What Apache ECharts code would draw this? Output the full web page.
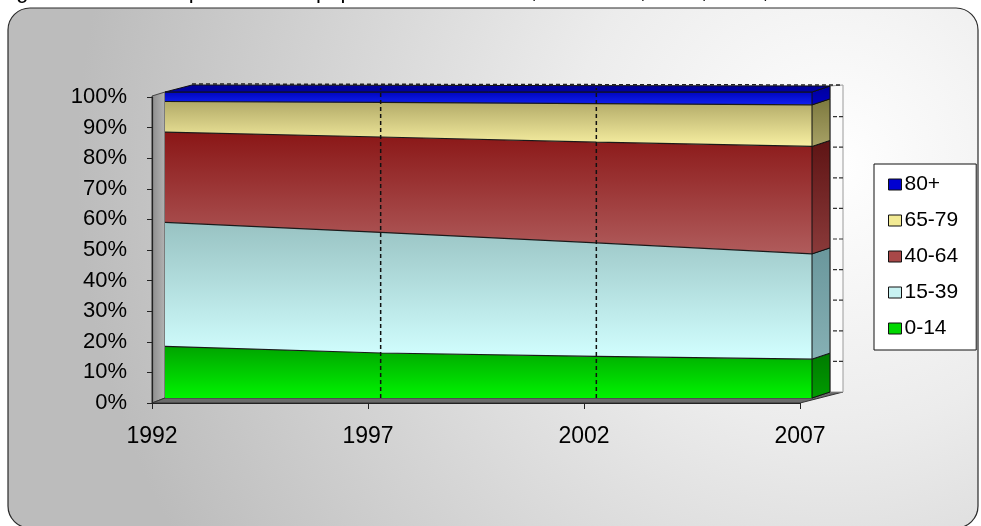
<!DOCTYPE html>
<html>
<head>
<meta charset="utf-8">
<script src="https://cdn.jsdelivr.net/npm/echarts@6/dist/echarts.min.js"></script>
<style>
  html, body { margin: 0; padding: 0; background: #ffffff; }
  #chart { width: 981px; height: 526px; }
</style>
</head>
<body>
<div id="chart"></div>
<script>
// Resident population by age group, percentage shares
const years = ['1992', '1997', '2002', '2007'];
const share0to14  = [16.9, 14.7, 13.6, 12.7];
const share15to39 = [40.5, 39.4, 37.1, 34.4];
const share40to64 = [29.5, 31.2, 32.9, 35.1];
const share65to79 = [10.0, 11.3, 12.6, 13.6];
const share80plus = [3.1, 3.4, 3.8, 4.2];
const percentMin = 0;
const percentMax = 100;
const percentStep = 10;
const legendOrder = ['80+', '65-79', '40-64', '15-39', '0-14'];
const titleText = 'Figura 3 - Struttura per età della popolazione residente, anni 1992, 1997, 2002, 2007';

const FONT = '"Liberation Sans", Arial, sans-serif';
const W = 981, H = 526;

// front face of the 3D block (data grid) and the grid carrying the visible axes
const FRONT = { left: 165, right: 169, top: 92, bottom: 128 };
const AXIS = { left: 152, right: 181, top: 97, bottom: 123 };
const DR = [18, -6];   // depth offset, right side
const DL = [27, -7];   // depth offset, left side
const STRIP = 13;      // right wall thickness

const frontL = FRONT.left, frontR = W - FRONT.right, frontT = FRONT.top, frontB = H - FRONT.bottom;
const axisL = AXIS.left, axisR = W - AXIS.right, axisT = AXIS.top, axisB = H - AXIS.bottom;

function vGrad(top, bottom) {
  return new echarts.graphic.LinearGradient(0, 0, 0, 1, [
    { offset: 0, color: top }, { offset: 1, color: bottom }
  ]);
}

const bands = [
  { name: '0-14',  values: share0to14,  legend: '#00d800', top: '#00a400', bottom: '#00f400', side: vGrad('#007a00', '#009c00') },
  { name: '15-39', values: share15to39, legend: '#c8f2f2', top: '#98c2c2', bottom: '#d2ffff', side: vGrad('#6a979c', '#86b0b4') },
  { name: '40-64', values: share40to64, legend: '#a84848', top: '#8a1616', bottom: '#b05c5c', side: vGrad('#5e1414', '#8a3a3a') },
  { name: '65-79', values: share65to79, legend: '#f2ea94', top: '#b2aa68', bottom: '#f8f0a2', side: vGrad('#7c783e', '#a8a266') },
  { name: '80+',   values: share80plus, legend: '#0000d0', top: '#0006c0', bottom: '#1020f0', side: vGrad('#00009a', '#0000c0') }
];

const areaSeries = bands.map(b => ({
  name: b.name,
  type: 'line',
  stack: 'share',
  xAxisIndex: 0,
  yAxisIndex: 0,
  data: b.values,
  symbol: 'none',
  silent: true,
  z: 2,
  lineStyle: { color: '#1a1a1a', width: 1.2 },
  itemStyle: { color: b.legend },
  areaStyle: { color: vGrad(b.top, b.bottom), opacity: 1 },
  emphasis: { disabled: true }
}));

// side faces, top face and dashed guides derived from the same scale
const depthSeries = {
  type: 'custom',
  xAxisIndex: 0,
  yAxisIndex: 0,
  data: [[0, 0]],
  silent: true,
  z: 3,
  renderItem: function (params, api) {
    const n = years.length;
    const children = [];
    let lower = 0;
    bands.forEach(b => {
      const upper = lower + b.values[n - 1];
      const a = api.coord([n - 1, lower]);
      const c = api.coord([n - 1, upper]);
      children.push({
        type: 'polygon',
        shape: { points: [a, c, [c[0] + DR[0], c[1] + DR[1]], [a[0] + DR[0], a[1] + DR[1]]] },
        style: { fill: b.side, stroke: '#111', lineWidth: 1 }
      });
      lower = upper;
    });
    const tl = api.coord([0, percentMax]);
    const tr = api.coord([n - 1, percentMax]);
    children.push({
      type: 'polygon',
      shape: { points: [tl, tr, [tr[0] + DR[0], tr[1] + DR[1]], [tl[0] + DL[0], tl[1] + DL[1]]] },
      style: { fill: '#00009c', stroke: '#111', lineWidth: 1 }
    });
    for (let i = 1; i < n - 1; i++) {
      const p0 = api.coord([i, percentMin]);
      const p1 = api.coord([i, percentMax]);
      children.push({
        type: 'line',
        shape: { x1: p0[0], y1: p0[1], x2: p1[0], y2: p1[1] - 4 },
        style: { stroke: '#111', lineWidth: 1.5, lineDash: [4, 3] }
      });
    }
    children.push({
      type: 'line',
      shape: { x1: tl[0] + DL[0], y1: tl[1] + DL[1] - 1, x2: tr[0] + DR[0] + STRIP, y2: tr[1] + DR[1] - 1 },
      style: { stroke: '#222', lineWidth: 1.5, lineDash: [4, 3] }
    });
    return { type: 'group', children: children };
  }
};

// walls, floor and background
const backTop = frontT + DR[1], backBottom = frontB + DR[1];
const wallX = frontR + DR[0];
const graphics = [
  {
    type: 'rect', z: -20, silent: true,
    shape: { x: 8, y: 8, width: 970, height: 520, r: 22 },
    style: {
      fill: new echarts.graphic.RadialGradient(0.85, 0.3, 1.45, [
        { offset: 0, color: '#ffffff' }, { offset: 0.35, color: '#ececec' }, { offset: 1, color: '#bcbcbc' }
      ]),
      stroke: '#2a2a2a', lineWidth: 1.2
    }
  },
  {
    type: 'text', z: -5, silent: true,
    style: { text: titleText, x: -2, y: 3, fill: '#000', font: '22px ' + FONT, verticalAlign: 'bottom' }
  },
  {
    type: 'polygon', z: -5, silent: true,
    shape: { points: [[axisL, axisT - 1], [frontL, frontT], [frontL, frontB], [axisL, axisB]] },
    style: { fill: new echarts.graphic.LinearGradient(0, 0, 1, 0, [{ offset: 0, color: '#8c8c8c' }, { offset: 1, color: '#b4b4b4' }]), stroke: '#444', lineWidth: 1 }
  },
  {
    type: 'polygon', z: -5, silent: true,
    shape: { points: [[axisL, axisB], [axisR, axisB], [wallX + STRIP, backBottom], [wallX, backBottom], [frontR, frontB], [frontL, frontB]] },
    style: { fill: '#6a6a6a', stroke: '#333', lineWidth: 1 }
  },
  {
    type: 'polygon', z: -5, silent: true,
    shape: { points: [[wallX, backTop], [wallX + STRIP, backTop - 1], [wallX + STRIP, backBottom], [wallX, backBottom]] },
    style: { fill: '#fbfbfb', stroke: '#9a9a9a', lineWidth: 1 }
  }
];
for (let v = percentMin + percentStep; v < percentMax; v += percentStep) {
  const y = backBottom - (v - percentMin) / (percentMax - percentMin) * (frontB - frontT);
  graphics.push({
    type: 'line', z: -4, silent: true,
    shape: { x1: wallX + 3, y1: y, x2: wallX + STRIP, y2: y },
    style: { stroke: '#333', lineWidth: 1.2, lineDash: [4, 2] }
  });
}

const chart = echarts.init(document.getElementById('chart'), null, { renderer: 'canvas' });
chart.setOption({
  animation: false,
  textStyle: { fontFamily: FONT },
  graphic: graphics,
  grid: [
    { left: FRONT.left, right: FRONT.right, top: FRONT.top, bottom: FRONT.bottom, containLabel: false },
    { left: AXIS.left, right: AXIS.right, top: AXIS.top, bottom: AXIS.bottom, containLabel: false }
  ],
  xAxis: [
    { gridIndex: 0, type: 'category', data: years, boundaryGap: false, show: false },
    {
      gridIndex: 1, type: 'category', data: years, boundaryGap: false,
      axisLine: { show: true, lineStyle: { color: '#222', width: 1.2 } },
      axisTick: { show: true, length: 6, alignWithLabel: true, lineStyle: { color: '#222' } },
      axisLabel: { fontSize: 23, color: '#000', margin: 22, fontFamily: FONT },
      splitLine: { show: false }
    }
  ],
  yAxis: [
    { gridIndex: 0, type: 'value', min: percentMin, max: percentMax, show: false },
    {
      gridIndex: 1, type: 'value', min: percentMin, max: percentMax, interval: percentStep,
      axisLine: { show: true, lineStyle: { color: '#222', width: 1.2 } },
      axisTick: { show: true, length: 5, lineStyle: { color: '#222' } },
      axisLabel: { formatter: '{value}%', fontSize: 22, color: '#000', margin: 25, fontFamily: FONT },
      splitLine: { show: false }
    }
  ],
  legend: {
    orient: 'vertical',
    left: 874,
    top: 164,
    data: legendOrder,
    icon: 'rect',
    itemWidth: 13,
    itemHeight: 11,
    itemGap: 15,
    selectedMode: false,
    backgroundColor: '#ffffff',
    borderColor: '#111',
    borderWidth: 1,
    borderRadius: 0,
    padding: [10, 18, 11, 14],
    itemStyle: { borderColor: '#111', borderWidth: 1 },
    textStyle: { fontSize: 21, color: '#000', fontFamily: FONT, padding: [0, 0, 0, -2] }
  },
  series: areaSeries.concat([depthSeries])
});
</script>
</body>
</html>
